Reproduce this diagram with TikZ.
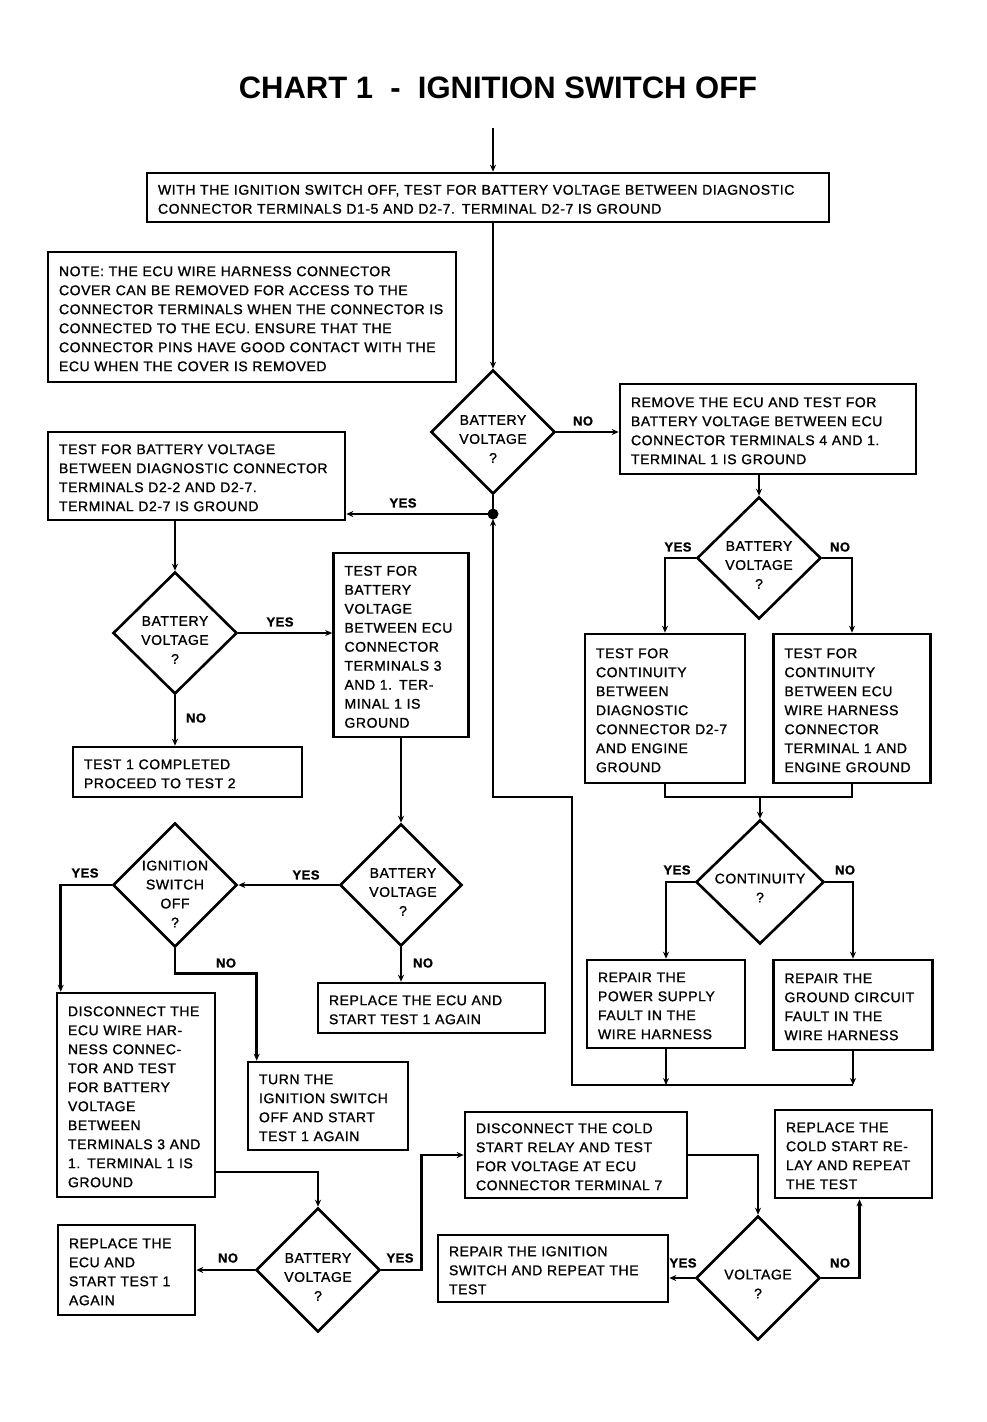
\documentclass[tikz,border=0pt]{standalone}
\usepackage{fontspec}
\setmainfont{Liberation Sans}[LetterSpace=4,FakeBold=1.2]
\newfontfamily\tfont{Liberation Sans}
\usetikzlibrary{shapes.geometric,arrows.meta}
\newcommand\bxl[1]{\par\hbox{\strut #1}}
\begin{document}
\begin{tikzpicture}[x=1pt,y=-1pt,line width=2.6pt,
  box/.style={draw,rectangle,inner xsep=11pt,inner ysep=0pt,
    font=\fontsize{14}{19}\selectfont},
  dia/.style={draw,shape=diamond,minimum width=124pt,minimum height=124pt,inner sep=0pt},
  dtext/.style={align=center,inner sep=0pt,font=\fontsize{14}{19}\selectfont},
  lab/.style={inner sep=0pt,font=\fontsize{13}{13}\selectfont\bfseries},
  arr/.style={-{Stealth[length=7pt,width=6pt]}}]
\useasboundingbox (0,0) rectangle (986,1422);

\node[inner sep=0pt,font=\tfont\fontsize{31}{31}\selectfont\bfseries] (title) at (498,88) {CHART 1 \ - \ IGNITION SWITCH OFF};

% ---------- boxes ----------
\node[box,text width=660pt,minimum height=49pt] (b1) at (488,197.5)
 {\bxl{WITH THE IGNITION SWITCH OFF, TEST FOR BATTERY VOLTAGE BETWEEN DIAGNOSTIC}\bxl{CONNECTOR TERMINALS D1-5 AND D2-7. TERMINAL D2-7 IS GROUND}};
\node[box,text width=386pt,minimum height=130pt] (note) at (252,317)
 {\bxl{NOTE: THE ECU WIRE HARNESS CONNECTOR}\bxl{COVER CAN BE REMOVED FOR ACCESS TO THE}\bxl{CONNECTOR TERMINALS WHEN THE CONNECTOR IS}\bxl{CONNECTED TO THE ECU. ENSURE THAT THE}\bxl{CONNECTOR PINS HAVE GOOD CONTACT WITH THE}\bxl{ECU WHEN THE COVER IS REMOVED}};
\node[box,text width=274pt,minimum height=90pt] (rem) at (768,429)
 {\bxl{REMOVE THE ECU AND TEST FOR}\bxl{BATTERY VOLTAGE BETWEEN ECU}\bxl{CONNECTOR TERMINALS 4 AND 1.}\bxl{TERMINAL 1 IS GROUND}};
\node[box,text width=275pt,minimum height=88pt] (td2) at (196.5,476)
 {\bxl{TEST FOR BATTERY VOLTAGE}\bxl{BETWEEN DIAGNOSTIC CONNECTOR}\bxl{TERMINALS D2-2 AND D2-7.}\bxl{TERMINAL D2-7 IS GROUND}};
\node[box,text width=113pt,minimum height=184pt] (tbv) at (401,645)
 {\bxl{TEST FOR}\bxl{BATTERY}\bxl{VOLTAGE}\bxl{BETWEEN ECU}\bxl{CONNECTOR}\bxl{TERMINALS 3}\bxl{AND 1. TER-}\bxl{MINAL 1 IS}\bxl{GROUND}};
\node[box,text width=207pt,minimum height=50pt] (t1c) at (187.5,772)
 {\bxl{TEST 1 COMPLETED}\bxl{PROCEED TO TEST 2}};
\node[box,text width=138pt,minimum height=149pt] (tc1) at (665,708.5)
 {\bxl{TEST FOR}\bxl{CONTINUITY}\bxl{BETWEEN}\bxl{DIAGNOSTIC}\bxl{CONNECTOR D2-7}\bxl{AND ENGINE}\bxl{GROUND}};
\node[box,text width=135pt,minimum height=149pt] (tc2) at (852,708.5)
 {\bxl{TEST FOR}\bxl{CONTINUITY}\bxl{BETWEEN ECU}\bxl{WIRE HARNESS}\bxl{CONNECTOR}\bxl{TERMINAL 1 AND}\bxl{ENGINE GROUND}};
\node[box,text width=136pt,minimum height=88pt] (rp1) at (666,1004)
 {\bxl{REPAIR THE}\bxl{POWER SUPPLY}\bxl{FAULT IN THE}\bxl{WIRE HARNESS}};
\node[box,text width=137pt,minimum height=90pt] (rp2) at (853,1005)
 {\bxl{REPAIR THE}\bxl{GROUND CIRCUIT}\bxl{FAULT IN THE}\bxl{WIRE HARNESS}};
\node[box,text width=205pt,minimum height=50pt] (re1) at (431.5,1008)
 {\bxl{REPLACE THE ECU AND}\bxl{START TEST 1 AGAIN}};
\node[box,text width=136pt,minimum height=204pt] (disc) at (136,1095)
 {\bxl{DISCONNECT THE}\bxl{ECU WIRE HAR-}\bxl{NESS CONNEC-}\bxl{TOR AND TEST}\bxl{FOR BATTERY}\bxl{VOLTAGE}\bxl{BETWEEN}\bxl{TERMINALS 3 AND}\bxl{1. TERMINAL 1 IS}\bxl{GROUND}};
\node[box,text width=138pt,minimum height=88pt] (turn) at (328,1106)
 {\bxl{TURN THE}\bxl{IGNITION SWITCH}\bxl{OFF AND START}\bxl{TEST 1 AGAIN}};
\node[box,text width=115pt,minimum height=90pt] (re2) at (126.5,1270)
 {\bxl{REPLACE THE}\bxl{ECU AND}\bxl{START TEST 1}\bxl{AGAIN}};
\node[box,text width=200pt,minimum height=86pt] (dcs) at (576,1155)
 {\bxl{DISCONNECT THE COLD}\bxl{START RELAY AND TEST}\bxl{FOR VOLTAGE AT ECU}\bxl{CONNECTOR TERMINAL 7}};
\node[box,text width=208pt,minimum height=67pt] (rig) at (553,1268.5)
 {\bxl{REPAIR THE IGNITION}\bxl{SWITCH AND REPEAT THE}\bxl{TEST}};
\node[box,text width=135pt,minimum height=88pt] (rcs) at (853.5,1154)
 {\bxl{REPLACE THE}\bxl{COLD START RE-}\bxl{LAY AND REPEAT}\bxl{THE TEST}};

% ---------- diamonds ----------
\node[dia] (d1) at (493,432) {};
\node[dtext] (d1t) at (493,439) {BATTERY\\VOLTAGE\\?};
\node[dia,minimum height=122pt] (d2) at (759,558) {};
\node[dtext] (d2t) at (759,565) {BATTERY\\VOLTAGE\\?};
\node[dia,minimum width=128pt] (d3) at (760,882) {};
\node[dtext] (d3t) at (760,888) {CONTINUITY\\?};
\node[dia,minimum height=122pt] (d4) at (175,633) {};
\node[dtext] (d4t) at (175,640) {BATTERY\\VOLTAGE\\?};
\node[dia,minimum width=122pt,minimum height=122pt] (d5) at (401,885) {};
\node[dtext] (d5t) at (403,892) {BATTERY\\VOLTAGE\\?};
\node[dia] (d6) at (175,885) {};
\node[dtext] (d6t) at (175,894) {IGNITION\\SWITCH\\OFF\\?};
\node[dia] (d7) at (318,1270) {};
\node[dtext] (d7t) at (318,1277) {BATTERY\\VOLTAGE\\?};
\node[dia] (d8) at (758,1278) {};
\node[dtext] (d8t) at (758,1284) {VOLTAGE\\?};

% ---------- coordinates ----------
\coordinate (top) at (493,128);
\coordinate (j) at (493,514);
\coordinate (m) at (760,797);
\coordinate (lp1) at (572,1085);
\coordinate (lp2) at (572,797);

% ---------- connectors ----------
\draw[arr] (top) -- (top |- b1.north);
\draw[arr] (d1.north |- b1.south) -- (d1.north);
\draw[arr] (d1.east) -- (rem.west |- d1.east);
\draw (d1.south) -- (j);
\fill (j) circle (5.5pt);
\draw[arr] (j) -- (td2.east |- j);
\draw[arr] (d2.north |- rem.south) -- (d2.north);
\draw[arr] (d2.west) -| (tc1.north);
\draw[arr] (d2.east) -| (tc2.north);
\draw (tc1.south) -- (tc1.south |- m) -- (tc2.south |- m) -- (tc2.south);
\draw[arr] (m) -- (d3.north);
\draw[arr] (d3.west) -| (rp1.north);
\draw[arr] (d3.east) -| (rp2.north);
\draw[arr] (rp1.south) -- (rp1.south |- lp1);
\draw[arr] (rp2.south) -- (rp2.south |- lp1);
\draw[arr,shorten >=5pt] (rp2.south |- lp1) -- (lp1) -- (lp2) -- (j |- lp2) -- (j);

\draw[arr] (d4.north |- td2.south) -- (d4.north);
\draw[arr] (d4.east) -- (tbv.west |- d4.east);
\draw[arr] (d4.south) -- (d4.south |- t1c.north);
\draw[arr] (tbv.south) -- (d5.north);
\draw[arr] (d5.west) -- (d6.east);
\draw[arr] (d5.south) -- (d5.south |- re1.north);
\draw[arr] (d6.west) -| ([xshift=5pt]disc.north west);
\draw[arr] (d6.south) -- ++(0,25) -| ([xshift=10pt]turn.north west);
\draw[arr] ([yshift=-77pt]disc.east) -| (d7.north);
\draw[arr] (d7.west) -- (re2.east);
\draw[arr] (d7.east) -- ++(40,0) |- (dcs.west);
\draw[arr] (dcs.east) -| (d8.north);
\draw[arr] (d8.west) -- (rig.east |- d8.west);
\draw[arr] (d8.east) -| ([xshift=6pt]rcs.south);

% ---------- labels ----------
\node[lab] (l1) at (583,421) {NO};
\node[lab] (l2) at (403,503) {YES};
\node[lab] (l3) at (678,547) {YES};
\node[lab] (l4) at (840,547) {NO};
\node[lab] (l5) at (677,870) {YES};
\node[lab] (l6) at (845,870) {NO};
\node[lab] (l7) at (280,622) {YES};
\node[lab] (l8) at (196,718) {NO};
\node[lab] (l9) at (306,875) {YES};
\node[lab] (l10) at (423,963) {NO};
\node[lab] (l11) at (85,873) {YES};
\node[lab] (l12) at (226,963) {NO};
\node[lab] (l13) at (228,1258) {NO};
\node[lab] (l14) at (400,1258) {YES};
\node[lab] (l15) at (683,1263) {YES};
\node[lab] (l16) at (840,1263) {NO};
\end{tikzpicture}
\end{document}
